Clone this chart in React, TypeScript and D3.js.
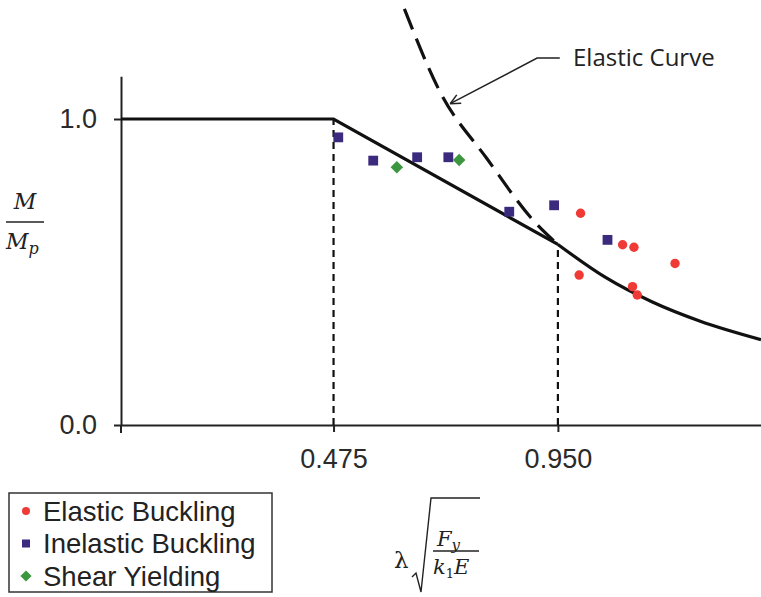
import React, { useEffect, useRef } from "react";
import * as d3 from "d3";

// solid design curve: plateau, inelastic line, elastic tail
const plateauLambda = [0.025, 0.475];
const plateauM = [1.0, 1.0];
const inelasticLambda = [0.475, 0.95];
const inelasticM = [1.0, 0.59];
const elasticTailLambda = [0.95, 1.05, 1.15, 1.25, 1.38];
const elasticTailM = [0.59, 0.483, 0.402, 0.34, 0.279];

// dashed elastic curve, continued above the inelastic range
const elasticDashLambda = [0.625, 0.7, 0.8, 0.9, 0.95];
const elasticDashM = [1.36, 1.09, 0.87, 0.665, 0.59];

// test results
const elasticLambda = [0.998, 1.087, 1.111, 1.198, 0.995, 1.108, 1.118];
const elasticM = [0.692, 0.589, 0.581, 0.528, 0.49, 0.452, 0.425];
const inelasticPtLambda = [0.485, 0.559, 0.652, 0.718, 0.847, 0.942, 1.055];
const inelasticPtM = [0.94, 0.864, 0.875, 0.875, 0.697, 0.718, 0.605];
const shearLambda = [0.609, 0.741];
const shearM = [0.842, 0.866];

const xTicks = [0.475, 0.95];
const yTicks = [0, 1];
const seriesNames = ["Elastic Buckling", "Inelastic Buckling", "Shear Yielding"];
const seriesColors = ["#ef3a36", "#3b2a7e", "#3c963f"];

const zip = (a: number[], b: number[]) => a.map((v, i) => [v, b[i]] as [number, number]);

const App = () => {
  const chartRef = useRef<SVGSVGElement | null>(null);

  useEffect(() => {
    const svg = d3.select(chartRef.current);
    svg.selectAll("*").remove();

    const x = d3.scaleLinear().domain([0.025, 1.38]).range([121, 761]);
    const y = d3.scaleLinear().domain([0, 1.14]).range([425, 425 - 1.14 * 306]);

    const font = "'Liberation Sans', Arial, sans-serif";
    const ink = "#222";

    // axes
    const xAxis = svg.append("g")
      .attr("transform", `translate(0,${y(0)})`)
      .call(d3.axisBottom(x).tickValues(xTicks).tickFormat(d3.format(".3f"))
        .tickSize(7).tickSizeOuter(0).tickPadding(17));
    const yAxis = svg.append("g")
      .attr("transform", `translate(${x(0.025)},0)`)
      .call(d3.axisLeft(y).tickValues(yTicks).tickFormat(d3.format(".1f"))
        .tickSize(7).tickSizeOuter(0).tickPadding(17));
    [xAxis, yAxis].forEach((g) => {
      g.select(".domain").attr("stroke", ink).attr("stroke-width", 2);
      g.selectAll(".tick line").attr("stroke", ink).attr("stroke-width", 2);
      g.selectAll(".tick text")
        .attr("fill", "#2a2a2a")
        .style("font-family", font)
        .style("font-size", "27px");
    });
    // y axis pokes a little below the x axis
    svg.append("line")
      .attr("x1", x(0.025)).attr("x2", x(0.025))
      .attr("y1", y(0)).attr("y2", y(0) + 8)
      .attr("stroke", ink).attr("stroke-width", 2);

    // vertical dashed guides
    svg.selectAll(".guide")
      .data(zip(inelasticLambda, inelasticM))
      .enter()
      .append("line")
      .attr("class", "guide")
      .attr("x1", (d) => x(d[0])).attr("x2", (d) => x(d[0]))
      .attr("y1", y(0)).attr("y2", (d) => y(d[1]))
      .attr("stroke", "#111")
      .attr("stroke-width", 2.2)
      .attr("stroke-dasharray", "7,5");

    const line = d3.line<[number, number]>().x((d) => x(d[0])).y((d) => y(d[1]));

    // solid curve
    svg.append("path")
      .attr("d", line(zip(plateauLambda, plateauM).concat(zip(inelasticLambda, inelasticM).slice(1))))
      .attr("fill", "none").attr("stroke", "#111").attr("stroke-width", 3.2);
    svg.append("path")
      .attr("d", line.curve(d3.curveMonotoneX)(zip(elasticTailLambda, elasticTailM)))
      .attr("fill", "none").attr("stroke", "#111").attr("stroke-width", 3.2);

    // dashed elastic curve
    svg.append("path")
      .attr("d", line.curve(d3.curveMonotoneX)(zip(elasticDashLambda, elasticDashM)))
      .attr("fill", "none").attr("stroke", "#111").attr("stroke-width", 3.2)
      .attr("stroke-dasharray", "22,10");

    // annotation
    const tip: [number, number] = [x(0.722), y(1.05)];
    const elbow: [number, number] = [x(0.906), y(1.199)];
    const end: [number, number] = [x(0.954), y(1.199)];
    svg.append("path")
      .attr("d", `M${end[0]},${end[1]}L${elbow[0]},${elbow[1]}L${tip[0]},${tip[1]}`)
      .attr("fill", "none").attr("stroke", "#222").attr("stroke-width", 1.5);
    const ang = Math.atan2(elbow[1] - tip[1], elbow[0] - tip[0]);
    [-0.45, 0.45].forEach((a) => {
      svg.append("line")
        .attr("x1", tip[0]).attr("y1", tip[1])
        .attr("x2", tip[0] + 11 * Math.cos(ang + a))
        .attr("y2", tip[1] + 11 * Math.sin(ang + a))
        .attr("stroke", "#222").attr("stroke-width", 1.5);
    });
    svg.append("text")
      .attr("x", x(0.982)).attr("y", y(1.172))
      .style("font-family", "'Open Sans', sans-serif")
      .style("font-size", "24px")
      .attr("fill", "#222")
      .text("Elastic Curve");

    // data points
    svg.selectAll(".elastic")
      .data(zip(elasticLambda, elasticM))
      .enter()
      .append("circle")
      .attr("class", "elastic")
      .attr("cx", (d) => x(d[0])).attr("cy", (d) => y(d[1]))
      .attr("r", 4.7)
      .attr("fill", seriesColors[0]);
    svg.selectAll(".inelastic")
      .data(zip(inelasticPtLambda, inelasticPtM))
      .enter()
      .append("rect")
      .attr("class", "inelastic")
      .attr("x", (d) => x(d[0]) - 4.9).attr("y", (d) => y(d[1]) - 4.9)
      .attr("width", 9.8).attr("height", 9.8)
      .attr("fill", seriesColors[1]);
    const diamond = d3.symbol().type(d3.symbolDiamond2).size(100);
    svg.selectAll(".shear")
      .data(zip(shearLambda, shearM))
      .enter()
      .append("path")
      .attr("class", "shear")
      .attr("d", diamond)
      .attr("transform", (d) => `translate(${x(d[0])},${y(d[1])})`)
      .attr("fill", seriesColors[2]);

    // legend
    const legend = svg.append("g").attr("transform", "translate(9,493)");
    legend.append("rect")
      .attr("width", 263).attr("height", 99)
      .attr("fill", "white").attr("stroke", "#333").attr("stroke-width", 1.5);
    const items = legend.selectAll(".legend-item")
      .data(seriesNames)
      .enter()
      .append("g")
      .attr("class", "legend-item")
      .attr("transform", (d, i) => `translate(17,${18 + i * 32.5})`);
    items.each(function (d, i) {
      const g = d3.select(this);
      if (i === 0) g.append("circle").attr("r", 4).attr("fill", seriesColors[0]);
      if (i === 1) g.append("rect").attr("x", -4).attr("y", -4).attr("width", 8).attr("height", 8).attr("fill", seriesColors[1]);
      if (i === 2) g.append("path").attr("d", d3.symbol().type(d3.symbolDiamond2).size(80)()).attr("fill", seriesColors[2]);
    });
    items.append("text")
      .attr("x", 17).attr("y", 9.5)
      .style("font-family", font)
      .style("font-size", "27.5px")
      .attr("fill", "#222")
      .text((d) => d);

    // y label  M / Mp
    const serif = "'DejaVu Serif', 'Liberation Serif', serif";
    const yl = svg.append("g").style("font-family", serif).style("font-style", "italic").attr("fill", "#222");
    yl.append("text").attr("x", 25).attr("y", 209).attr("text-anchor", "middle").style("font-size", "22px").text("M");
    yl.append("line").attr("x1", 6).attr("x2", 44).attr("y1", 222).attr("y2", 222).attr("stroke", "#222").attr("stroke-width", 1.5);
    const mp = yl.append("text").attr("x", 6).attr("y", 249).style("font-size", "22px");
    mp.append("tspan").text("M");
    mp.append("tspan").attr("dy", 5).style("font-size", "16px").text("p");

    // x label  λ sqrt(Fy / k1E)
    const xl = svg.append("g").attr("fill", "#222");
    xl.append("text").attr("x", 394).attr("y", 568)
      .style("font-family", serif).style("font-size", "23px").text("λ");
    xl.append("path")
      .attr("d", "M412,577L416,573L421,592L431,498L480,498")
      .attr("fill", "none").attr("stroke", "#222").attr("stroke-width", 1.4);
    const fy = xl.append("text").attr("x", 437).attr("y", 546)
      .style("font-family", serif).style("font-style", "italic").style("font-size", "21px");
    fy.append("tspan").text("F");
    fy.append("tspan").attr("dy", 4).style("font-size", "15px").text("y");
    xl.append("line").attr("x1", 433).attr("x2", 479).attr("y1", 551).attr("y2", 551)
      .attr("stroke", "#222").attr("stroke-width", 1.5);
    const ke = xl.append("text").attr("x", 433).attr("y", 574)
      .style("font-family", serif).style("font-style", "italic").style("font-size", "21px");
    ke.append("tspan").text("k");
    ke.append("tspan").attr("dy", 4).style("font-size", "13px").style("font-style", "normal").text("1");
    ke.append("tspan").attr("dy", -4).text("E");

    return () => {
      d3.select(chartRef.current).selectAll("*").remove();
    };
  }, []);

  return (
    <svg
      ref={chartRef}
      width={761}
      height={597}
      style={{ position: "absolute", left: 0, top: 0, background: "white" }}
    />
  );
};

export default App;
